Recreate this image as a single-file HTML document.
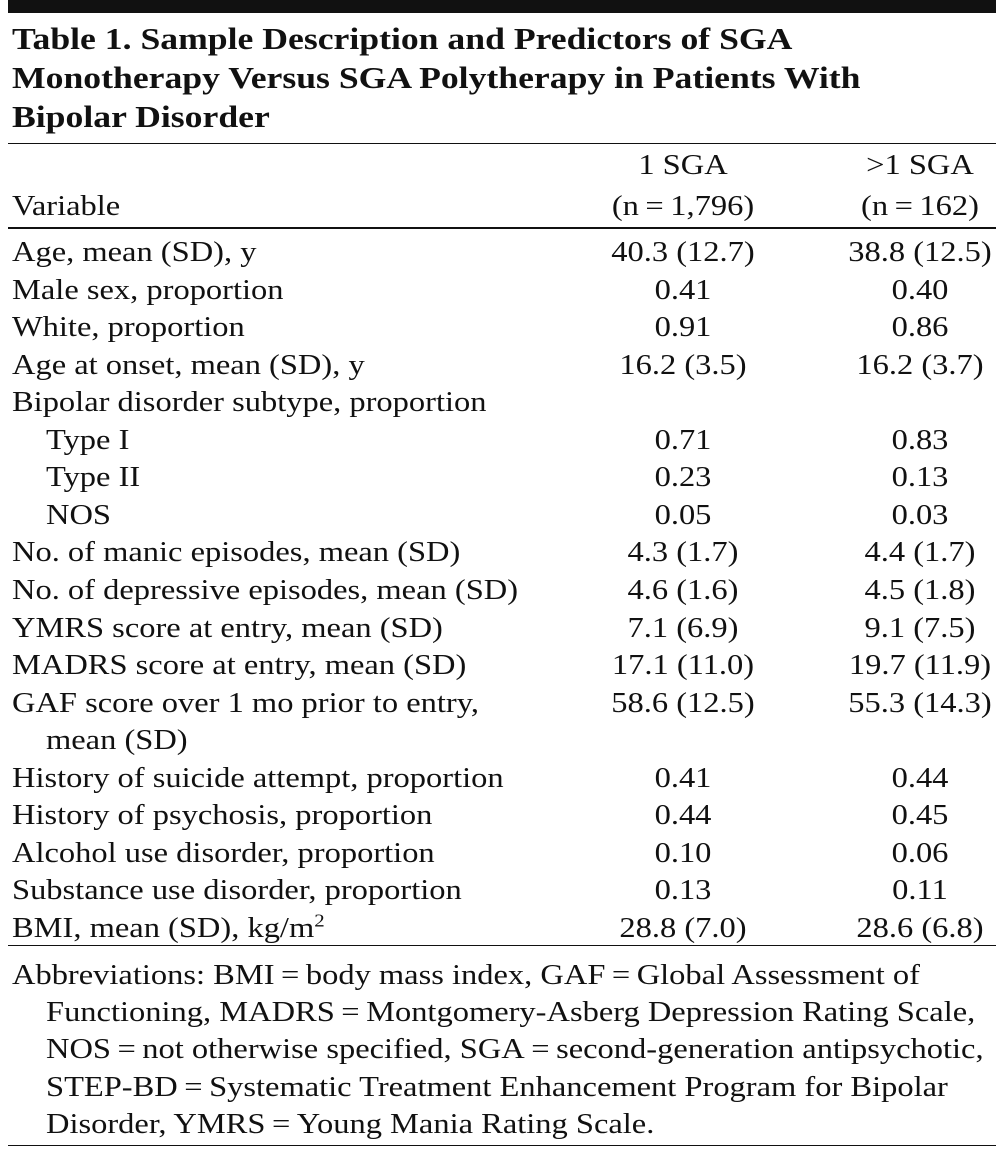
<!DOCTYPE html>
<html><head><meta charset="utf-8"><style>
body{margin:0;width:1004px;height:1149px;background:#fff;position:relative;overflow:hidden;font-family:"Liberation Serif",serif;color:#111}
.t{position:absolute;font-size:28px;line-height:38px;white-space:nowrap;transform:scaleX(1.16);transform-origin:0 50%}
.c1,.c2{transform-origin:50% 50%}
.c1{width:240px;left:563px;text-align:center}
.c2{width:200px;left:820px;text-align:center}
.h{position:absolute;font-weight:bold;font-size:31px;line-height:38px;left:12px;white-space:nowrap;transform:scaleX(1.15);transform-origin:0 50%}
.r{position:absolute;left:8px;right:8px;background:#111}
</style></head><body>
<div class="r" style="top:0;height:13px"></div>
<div class="h" style="top:20px">Table 1. Sample Description and Predictors of SGA</div>
<div class="h" style="top:59px">Monotherapy Versus SGA Polytherapy in Patients With</div>
<div class="h" style="top:98px">Bipolar Disorder</div>
<div class="r" style="top:143px;height:1px"></div>
<div class="t c1" style="top:147px">1 SGA</div>
<div class="t c2" style="top:147px">&gt;1 SGA</div>
<div class="t" style="left:12px;top:188px">Variable</div>
<div class="t c1" style="top:188px">(n&#8201;=&#8201;1,796)</div>
<div class="t c2" style="top:188px">(n&#8201;=&#8201;162)</div>
<div class="r" style="top:227px;height:2px"></div>
<div id="rows"></div>
<div class="r" style="top:945px;height:1px"></div>
<div class="t" style="left:12px;top:957px">Abbreviations: BMI&#8201;=&#8201;body mass index, GAF&#8201;=&#8201;Global Assessment of</div>
<div class="t" style="left:46px;top:994px">Functioning, MADRS&#8201;=&#8201;Montgomery-Asberg Depression Rating Scale,</div>
<div class="t" style="left:46px;top:1031px">NOS&#8201;=&#8201;not otherwise specified, SGA&#8201;=&#8201;second-generation antipsychotic,</div>
<div class="t" style="left:46px;top:1069px">STEP-BD&#8201;=&#8201;Systematic Treatment Enhancement Program for Bipolar</div>
<div class="t" style="left:46px;top:1106px">Disorder, YMRS&#8201;=&#8201;Young Mania Rating Scale.</div>
<div class="r" style="top:1145px;height:1px"></div>
<script>
const labels=["Age, mean (SD), y","Male sex, proportion","White, proportion","Age at onset, mean (SD), y","Bipolar disorder subtype, proportion","Type I","Type II","NOS","No. of manic episodes, mean (SD)","No. of depressive episodes, mean (SD)","YMRS score at entry, mean (SD)","MADRS score at entry, mean (SD)","GAF score over 1 mo prior to entry,","mean (SD)","History of suicide attempt, proportion","History of psychosis, proportion","Alcohol use disorder, proportion","Substance use disorder, proportion","BMI, mean (SD), kg/m<sup style='font-size:18px;line-height:0'>2</sup>"];
const mono=["40.3 (12.7)","0.41","0.91","16.2 (3.5)","","0.71","0.23","0.05","4.3 (1.7)","4.6 (1.6)","7.1 (6.9)","17.1 (11.0)","58.6 (12.5)","","0.41","0.44","0.10","0.13","28.8 (7.0)"];
const poly=["38.8 (12.5)","0.40","0.86","16.2 (3.7)","","0.83","0.13","0.03","4.4 (1.7)","4.5 (1.8)","9.1 (7.5)","19.7 (11.9)","55.3 (14.3)","","0.44","0.45","0.06","0.11","28.6 (6.8)"];
const indent=[5,6,7,13];
const host=document.getElementById('rows');
labels.forEach((l,i)=>{
  const top=234+i*37.55;
  const a=document.createElement('div');a.className='t';a.style.top=top+'px';a.style.left=(indent.includes(i)?46:12)+'px';a.innerHTML=l;
  
  
  host.appendChild(a);
  const b=document.createElement('div');b.className='t c1';b.style.top=top+'px';b.textContent=mono[i];
  
  
  host.appendChild(b);
  const c=document.createElement('div');c.className='t c2';c.style.top=top+'px';c.textContent=poly[i];
  
  
  host.appendChild(c);
});
</script>
</body></html>
